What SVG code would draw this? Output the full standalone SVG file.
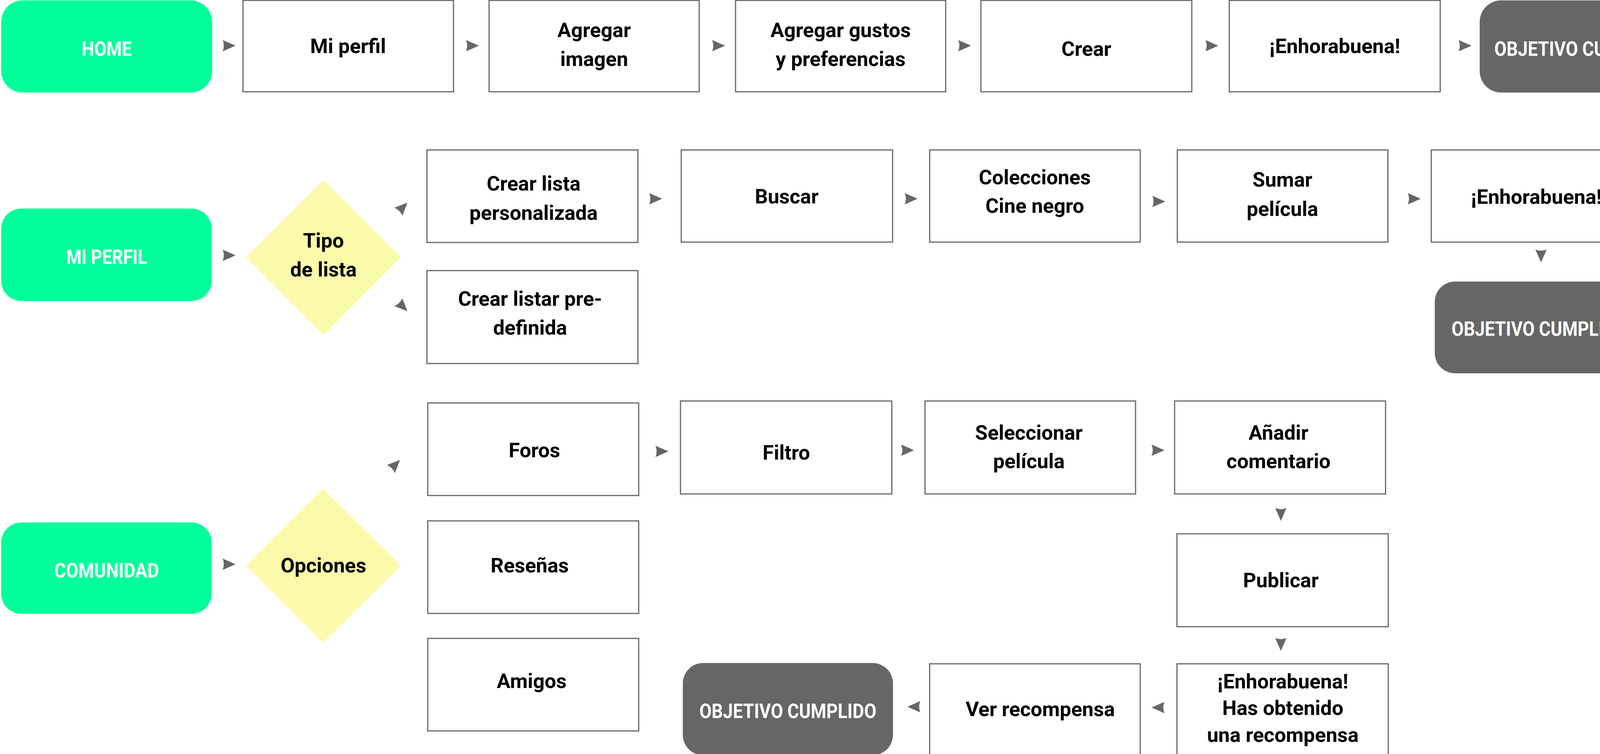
<svg xmlns="http://www.w3.org/2000/svg" xmlns:xlink="http://www.w3.org/1999/xlink" width="4318" height="1931" viewBox="0 0 4318 1931">
<style>
.box{fill:#ffffff;stroke:#666666;stroke-width:3}
.start{fill:#00FF99}
.end{fill:#666666}
.dia{fill:#FAFAAA}
.t{font-family:Roboto,'Liberation Sans',sans-serif;font-weight:700;font-size:52px;fill:#000000;text-anchor:middle}
.tw{font-family:Roboto,'Liberation Sans',sans-serif;font-weight:700;font-size:51px;fill:#ffffff;text-anchor:middle}
.ah{fill:#666666}
</style>
<defs>
<path id="ah" class="ah" d="M0,0 L-33,-14.5 Q-27,0 -33,14.5 Z"/>
</defs>
<rect width="4318" height="1931" fill="#ffffff"/>

<!-- Row 1 -->
<g id="home"><rect class="start" x="3" y="1" width="540" height="236" rx="55"/><text class="tw" x="273" y="143" textLength="128" lengthAdjust="spacingAndGlyphs">HOME</text></g>
<g id="mi-perfil"><rect class="box" x="622" y="1" width="539" height="234"/><text class="t" x="891" y="136">Mi perfil</text></g>
<g id="agregar-imagen"><rect class="box" x="1252" y="1" width="538" height="234"/><text class="t" x="1521" y="95">Agregar</text><text class="t" x="1521" y="169">imagen</text></g>
<g id="agregar-gustos"><rect class="box" x="1883" y="1" width="538" height="234"/><text class="t" x="2152" y="95">Agregar gustos</text><text class="t" x="2152" y="169">y preferencias</text></g>
<g id="crear"><rect class="box" x="2511" y="1" width="540" height="234"/><text class="t" x="2781" y="143">Crear</text></g>
<g id="enhorabuena-1"><rect class="box" x="3147" y="1" width="540" height="234"/><text class="t" x="3417" y="136">¡Enhorabuena!</text></g>
<g id="objetivo-1"><rect class="end" x="3788" y="1" width="528" height="236" rx="55"/><text class="tw" x="4052" y="143" textLength="453" lengthAdjust="spacingAndGlyphs">OBJETIVO CUMPLIDO</text></g>

<!-- Row 2 -->
<g id="mi-perfil-start"><rect class="start" x="3" y="534" width="539" height="237" rx="52"/><text class="tw" x="273" y="676" textLength="207" lengthAdjust="spacingAndGlyphs">MI PERFIL</text></g>
<g id="tipo-lista"><polygon class="dia" points="630,659 828,461 1026,659 828,858"/><text class="t" x="828" y="634">Tipo</text><text class="t" x="828" y="708">de lista</text></g>
<g id="lista-personalizada"><rect class="box" x="1093" y="384" width="540" height="237"/><text class="t" x="1366" y="488">Crear lista</text><text class="t" x="1366" y="563">personalizada</text></g>
<g id="lista-predefinida"><rect class="box" x="1093" y="693" width="540" height="238"/><text class="t" x="1357" y="783">Crear listar pre-</text><text class="t" x="1357" y="857">definida</text></g>
<g id="buscar"><rect class="box" x="1744" y="384" width="541" height="236"/><text class="t" x="2014" y="521">Buscar</text></g>
<g id="colecciones"><rect class="box" x="2380" y="384" width="539" height="236"/><text class="t" x="2649" y="472">Colecciones</text><text class="t" x="2649" y="545">Cine negro</text></g>
<g id="sumar"><rect class="box" x="3014" y="384" width="539" height="236"/><text class="t" x="3283" y="478">Sumar</text><text class="t" x="3283" y="553">película</text></g>
<g id="enhorabuena-2"><rect class="box" x="3664" y="384" width="538" height="236"/><text class="t" x="3933" y="522">¡Enhorabuena!</text></g>
<g id="objetivo-2"><rect class="end" x="3673" y="721" width="537" height="235" rx="52"/><text class="tw" x="3941" y="860" textLength="450" lengthAdjust="spacingAndGlyphs">OBJETIVO CUMPLIDO</text></g>

<!-- Row 3 -->
<g id="comunidad"><rect class="start" x="3" y="1338" width="539" height="234" rx="52"/><text class="tw" x="273" y="1479" textLength="268" lengthAdjust="spacingAndGlyphs">COMUNIDAD</text></g>
<g id="opciones"><polygon class="dia" points="630,1449 827,1252 1026,1449 827,1646"/><text class="t" x="828" y="1466">Opciones</text></g>
<g id="foros"><rect class="box" x="1095" y="1032" width="540" height="237"/><text class="t" x="1368" y="1171">Foros</text></g>
<g id="resenas"><rect class="box" x="1095" y="1334" width="540" height="237"/><text class="t" x="1356" y="1466">Reseñas</text></g>
<g id="amigos"><rect class="box" x="1095" y="1635" width="540" height="237"/><text class="t" x="1361" y="1762">Amigos</text></g>
<g id="filtro"><rect class="box" x="1742" y="1027" width="541" height="238"/><text class="t" x="2013" y="1177">Filtro</text></g>
<g id="seleccionar"><rect class="box" x="2368" y="1027" width="539" height="238"/><text class="t" x="2634" y="1126">Seleccionar</text><text class="t" x="2634" y="1199">película</text></g>
<g id="anadir"><rect class="box" x="3007" y="1027" width="540" height="238"/><text class="t" x="3273" y="1126">Añadir</text><text class="t" x="3273" y="1199">comentario</text></g>
<g id="publicar"><rect class="box" x="3013" y="1367" width="541" height="238"/><text class="t" x="3279" y="1504">Publicar</text></g>
<g id="enhorabuena-3"><rect class="box" x="3013" y="1700" width="541" height="240"/><text class="t" x="3284" y="1763">¡Enhorabuena!</text><text class="t" x="3284" y="1831">Has obtenido</text><text class="t" x="3284" y="1900">una recompensa</text></g>
<g id="ver-recompensa"><rect class="box" x="2380" y="1700" width="539" height="240"/><text class="t" x="2663" y="1834">Ver recompensa</text></g>
<g id="objetivo-3"><rect class="end" x="1748" y="1698" width="538" height="236" rx="52"/><text class="tw" x="2017" y="1839" textLength="453" lengthAdjust="spacingAndGlyphs">OBJETIVO CUMPLIDO</text></g>

<!-- Connectors (arrowheads only) -->
<g id="connectors">
<use xlink:href="#ah" href="#ah" transform="translate(603,117)"/>
<use xlink:href="#ah" href="#ah" transform="translate(1226,117)"/>
<use xlink:href="#ah" href="#ah" transform="translate(1856,117)"/>
<use xlink:href="#ah" href="#ah" transform="translate(2486,117)"/>
<use xlink:href="#ah" href="#ah" transform="translate(3119,117)"/>
<use xlink:href="#ah" href="#ah" transform="translate(3767,117)"/>

<use xlink:href="#ah" href="#ah" transform="translate(603,654)"/>
<use xlink:href="#ah" href="#ah" transform="translate(1043,519) rotate(-45)"/>
<use xlink:href="#ah" href="#ah" transform="translate(1043,797) rotate(45)"/>
<use xlink:href="#ah" href="#ah" transform="translate(1695,509)"/>
<use xlink:href="#ah" href="#ah" transform="translate(2349,509)"/>
<use xlink:href="#ah" href="#ah" transform="translate(2983,516)"/>
<use xlink:href="#ah" href="#ah" transform="translate(3637,509)"/>
<use xlink:href="#ah" href="#ah" transform="translate(3945,672) rotate(90)"/>

<use xlink:href="#ah" href="#ah" transform="translate(603,1445)"/>
<use xlink:href="#ah" href="#ah" transform="translate(1024,1178) rotate(-45)"/>
<use xlink:href="#ah" href="#ah" transform="translate(1711,1156)"/>
<use xlink:href="#ah" href="#ah" transform="translate(2340,1153)"/>
<use xlink:href="#ah" href="#ah" transform="translate(2981,1153)"/>
<use xlink:href="#ah" href="#ah" transform="translate(3279,1334) rotate(90)"/>
<use xlink:href="#ah" href="#ah" transform="translate(3279,1667) rotate(90)"/>
<use xlink:href="#ah" href="#ah" transform="translate(2948,1812) rotate(180)"/>
<use xlink:href="#ah" href="#ah" transform="translate(2323,1810) rotate(180)"/>
</g>
</svg>
